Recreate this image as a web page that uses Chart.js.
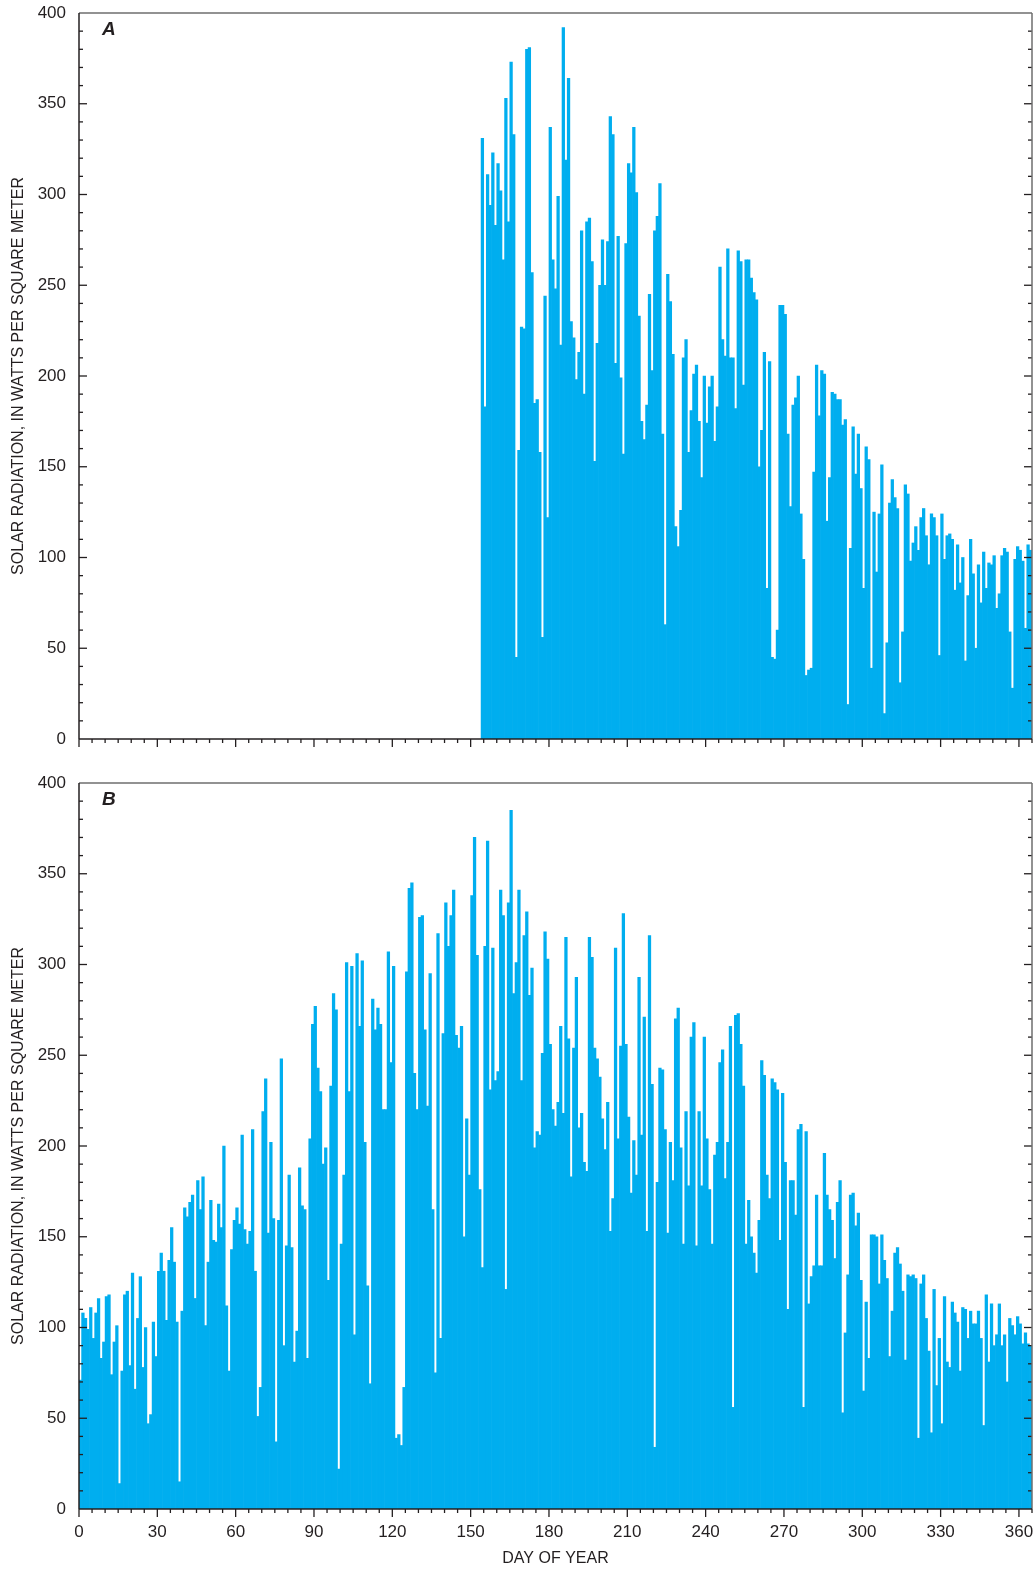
<!DOCTYPE html>
<html>
<head>
<meta charset="utf-8">
<title>Solar radiation by day of year</title>
<script src="https://cdn.jsdelivr.net/npm/chart.js@4.4.1/dist/chart.umd.min.js"></script>
<style>
  body { margin: 0; background: #fff; }
  canvas { position: absolute; left: 0; }
  #panelA { top: 0; }
  #panelB { top: 770px; }
</style>
</head>
<body>
<canvas id="panelA" width="1034" height="770"></canvas>
<canvas id="panelB" width="1034" height="802"></canvas>
<script>
// tick labels
const dayTicks = [0, 30, 60, 90, 120, 150, 180, 210, 240, 270, 300, 330, 360];
const radTicks = [0, 50, 100, 150, 200, 250, 300, 350, 400];

// panel A: record starts on day 155
const firstDayA = 155;
const radiationA = [
  331, 183, 311, 294, 323, 283, 317, 302, 264, 353, 285, 373, 333, 45, 159, 227, 226, 380, 381, 257,
  185, 187, 158, 56, 244, 122, 337, 264, 248, 299, 217, 392, 319, 364, 230, 221, 198, 213, 280, 190,
  285, 287, 263, 153, 218, 250, 275, 250, 274, 343, 333, 207, 277, 199, 157, 273, 317, 312, 337, 301,
  233, 175, 165, 184, 245, 203, 280, 288, 306, 168, 63, 256, 241, 212, 117, 106, 126, 210, 220, 158,
  181, 201, 206, 175, 144, 200, 174, 194, 200, 164, 183, 260, 220, 211, 270, 210, 210, 182, 269, 263,
  195, 264, 264, 254, 246, 242, 150, 170, 213, 83, 208, 45, 44, 60, 239, 239, 234, 168, 128, 184,
  188, 200, 124, 99, 35, 38, 39, 147, 206, 178, 203, 201, 120, 144, 191, 190, 187, 187, 173, 176,
  19, 105, 172, 146, 168, 138, 83, 161, 154, 39, 125, 92, 124, 151, 14, 53, 130, 143, 133, 127,
  31, 59, 140, 135, 98, 108, 117, 104, 122, 127, 112, 96, 124, 122, 112, 46, 124, 99, 112, 113,
  110, 82, 107, 86, 100, 43, 79, 110, 91, 50, 96, 75, 103, 83, 97, 96, 101, 72, 80, 101,
  105, 103, 59, 28, 99, 106, 104, 98, 61, 107, 104
];

// panel B: full year from day 1
const firstDayB = 1;
const radiationB = [
  71, 108, 105, 99, 111, 94, 108, 116, 83, 92, 117, 118, 74, 92, 101, 14, 76, 118, 120, 79,
  130, 66, 105, 128, 78, 100, 47, 52, 103, 84, 131, 141, 131, 104, 137, 155, 136, 103, 15, 109,
  166, 161, 169, 173, 116, 181, 165, 183, 101, 136, 170, 148, 147, 168, 155, 200, 112, 76, 143, 159,
  166, 157, 206, 154, 146, 153, 209, 131, 51, 67, 219, 237, 152, 202, 160, 37, 159, 248, 90, 145,
  184, 144, 81, 98, 188, 167, 165, 83, 204, 267, 277, 243, 230, 190, 199, 126, 233, 284, 275, 22,
  146, 184, 301, 230, 299, 96, 306, 266, 302, 202, 123, 69, 281, 264, 276, 267, 220, 220, 307, 246,
  299, 39, 41, 35, 67, 296, 342, 345, 240, 220, 326, 327, 264, 222, 295, 165, 75, 317, 94, 262,
  334, 310, 327, 341, 261, 254, 266, 150, 215, 184, 338, 370, 305, 176, 133, 310, 368, 231, 309, 236,
  241, 341, 327, 121, 334, 385, 284, 301, 341, 236, 316, 329, 283, 298, 199, 208, 206, 251, 318, 303,
  256, 220, 211, 224, 266, 218, 315, 259, 183, 254, 293, 210, 218, 191, 186, 315, 304, 254, 248, 238,
  215, 198, 224, 153, 171, 309, 204, 255, 328, 256, 216, 174, 203, 184, 293, 206, 271, 153, 316, 234,
  34, 180, 243, 242, 209, 152, 202, 181, 270, 276, 199, 146, 219, 178, 260, 268, 145, 219, 178, 260,
  204, 176, 146, 195, 202, 246, 253, 182, 202, 266, 56, 272, 273, 256, 233, 146, 170, 150, 141, 130,
  159, 247, 239, 184, 171, 237, 235, 231, 148, 229, 191, 110, 181, 181, 162, 209, 212, 56, 208, 113,
  128, 134, 173, 134, 134, 196, 173, 165, 159, 138, 169, 181, 53, 97, 129, 173, 174, 156, 163, 126,
  65, 114, 83, 151, 151, 150, 124, 151, 137, 127, 84, 109, 141, 144, 135, 120, 82, 129, 128, 129,
  127, 39, 124, 129, 105, 87, 42, 121, 68, 94, 47, 117, 81, 78, 114, 108, 103, 76, 111, 110,
  94, 109, 102, 102, 109, 94, 46, 118, 81, 113, 90, 96, 113, 90, 96, 70, 105, 101, 96, 106,
  102, 91, 97, 91, 90
];

const FONT = "'Liberation Sans Narrow', 'Arial Narrow', 'Liberation Sans', sans-serif";
const INK = '#231f20';
const BAR = '#00aeef';

// frame, inward y ticks, outward x ticks and the panel letter
const frameAndTicks = {
  id: 'frameAndTicks',
  afterDatasetsDraw(chart, args, opts) {
    const { ctx, chartArea: a, scales: { x, y } } = chart;
    const line = (x1, y1, x2, y2) => {
      ctx.beginPath();
      ctx.moveTo(x1, y1);
      ctx.lineTo(x2, y2);
      ctx.stroke();
    };
    ctx.save();
    ctx.lineWidth = 1.3;
    ctx.strokeStyle = INK;
    for (let d = 0; d <= 365; d += 5) {
      const px = x.getPixelForValue(d);
      line(px, a.bottom, px, a.bottom + (d % 30 === 0 ? 8 : 4));
    }
    for (let v = 10; v < 400; v += 10) {
      const py = y.getPixelForValue(v);
      const len = v % 50 === 0 ? 8 : 4;
      line(a.left, py, a.left + len, py);
      line(a.right, py, a.right - len, py);
    }
    ctx.strokeStyle = '#6e6e6e';
    ctx.lineWidth = 1.5;
    line(a.left, a.top, a.right, a.top);
    line(a.right, a.top, a.right, a.bottom);
    ctx.strokeStyle = INK;
    line(a.left, a.top, a.left, a.bottom);
    line(a.left, a.bottom, a.right, a.bottom);

    ctx.fillStyle = INK;
    ctx.font = "italic bold 19px 'Liberation Sans', Arial, sans-serif";
    ctx.textBaseline = 'alphabetic';
    ctx.fillText(opts.letter, a.left + 23, a.top + 22);
    ctx.restore();
  }
};

function makePanel(id, firstDay, values, letter, showDays) {
  const points = values.map((v, i) => ({ x: firstDay + i - 0.5, y: v }));
  const canvas = document.getElementById(id);
  return new Chart(canvas.getContext('2d'), {
    type: 'bar',
    data: {
      datasets: [{
        data: points,
        backgroundColor: BAR,
        borderWidth: 0,
        barPercentage: 1,
        categoryPercentage: 1
      }]
    },
    options: {
      responsive: false,
      animation: false,
      events: [],
      layout: { padding: { top: 13, right: 2, left: 0, bottom: 0 } },
      plugins: {
        legend: { display: false },
        tooltip: { enabled: false },
        frameAndTicks: { letter: letter }
      },
      scales: {
        x: {
          type: 'linear',
          min: 0,
          max: 365,
          offset: false,
          grid: { display: false, drawTicks: false },
          border: { display: false },
          afterBuildTicks: s => { s.ticks = dayTicks.map(v => ({ value: v })); },
          afterFit: s => {
            s.height = canvas.height - 13 - 726;
            s.paddingLeft = 0;
            s.paddingRight = 0;
          },
          ticks: {
            display: showDays,
            padding: 13,
            maxRotation: 0,
            autoSkip: false,
            color: INK,
            font: { family: FONT, size: 17 }
          },
          title: {
            display: showDays,
            text: 'DAY OF YEAR',
            color: INK,
            padding: { top: 0, bottom: 4 },
            font: { family: FONT, size: 16 }
          }
        },
        y: {
          min: 0,
          max: 400,
          grid: { display: false, drawTicks: false },
          border: { display: false },
          afterBuildTicks: s => { s.ticks = radTicks.map(v => ({ value: v })); },
          afterFit: s => {
            s.width = 79;
            s.paddingTop = 0;
            s.paddingBottom = 0;
          },
          ticks: {
            padding: 13,
            color: INK,
            font: { family: FONT, size: 17 }
          },
          title: {
            display: true,
            text: 'SOLAR RADIATION, IN WATTS PER SQUARE METER',
            color: INK,
            padding: { top: 9, bottom: 0 },
            font: { family: FONT, size: 16 }
          }
        }
      }
    },
    plugins: [frameAndTicks]
  });
}

makePanel('panelA', firstDayA, radiationA, 'A', false);
makePanel('panelB', firstDayB, radiationB, 'B', true);
</script>
</body>
</html>
